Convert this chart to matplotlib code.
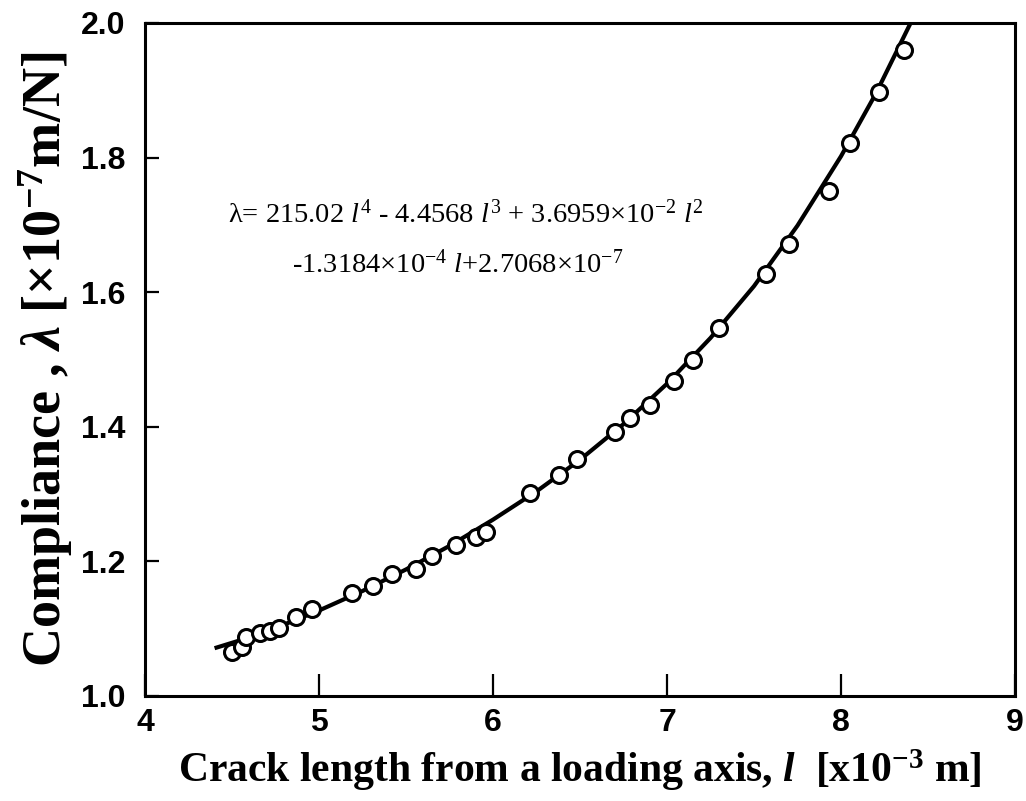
import matplotlib
matplotlib.use("Agg")
import matplotlib.pyplot as plt

# measured points: crack length [x10^-3 m], compliance [x10^-7 m/N]
crack_len = [4.50, 4.56, 4.58, 4.66, 4.72, 4.77, 4.87, 4.96, 5.19, 5.31,
             5.42, 5.56, 5.65, 5.79, 5.90, 5.96, 6.21, 6.38, 6.48, 6.70,
             6.79, 6.90, 7.04, 7.15, 7.30, 7.57, 7.70, 7.93, 8.05, 8.22, 8.36]
compliance = [1.066, 1.073, 1.088, 1.093, 1.097, 1.101, 1.117, 1.129, 1.153, 1.163,
              1.181, 1.188, 1.208, 1.224, 1.236, 1.244, 1.301, 1.329, 1.352, 1.392,
              1.413, 1.432, 1.468, 1.499, 1.547, 1.627, 1.671, 1.751, 1.821, 1.897, 1.960]

# fitted curve
fit_len = [4.40, 4.60, 4.75, 5.00, 5.25, 5.50, 5.75, 6.00, 6.25, 6.50,
           6.75, 7.00, 7.25, 7.50, 7.75, 8.00, 8.20, 8.40]
fit_val = [1.071, 1.087, 1.101, 1.127, 1.156, 1.188, 1.223, 1.262, 1.304, 1.351,
           1.404, 1.464, 1.532, 1.609, 1.699, 1.802, 1.895, 2.000]

plt.rcParams['mathtext.fontset'] = 'custom'
plt.rcParams['mathtext.rm'] = 'Liberation Serif'
plt.rcParams['mathtext.it'] = 'Liberation Serif:italic'
plt.rcParams['mathtext.bf'] = 'Liberation Serif:bold'
plt.rcParams['mathtext.bfit'] = 'Liberation Serif:italic:bold'

fig = plt.figure(figsize=(10.26, 8.01), dpi=100)
ax = fig.add_axes([0.1413, 0.1311, 0.848, 0.8402])

ax.plot(fit_len, fit_val, color='black', lw=3.0, solid_capstyle='butt', zorder=2)
ax.plot(crack_len, compliance, 'o', mfc='white', mec='black', ms=11.5, mew=2.2, zorder=3)

ax.set_xlim(4, 9)
ax.set_ylim(1.0, 2.0)
ax.set_xticks([4, 5, 6, 7, 8, 9])
ax.set_yticks([1.0, 1.2, 1.4, 1.6, 1.8, 2.0])
ax.set_yticklabels(['1.0', '1.2', '1.4', '1.6', '1.8', '2.0'])

for s in ax.spines.values():
    s.set_linewidth(2.2)
ax.tick_params(axis='x', direction='in', length=16, width=1.6, pad=9)
ax.tick_params(axis='y', direction='in', length=10, width=1.6, pad=14)
for lab in ax.get_xticklabels() + ax.get_yticklabels():
    lab.set_fontfamily('Liberation Sans')
    lab.set_fontweight('bold')
    lab.set_fontsize(23)

ax.set_xlabel(r'Crack length from a loading axis, $\mathbfit{l}$  [x10$^{\mathbf{-3}}$ m]',
              family='Liberation Serif', fontweight='bold', fontsize=30, labelpad=6)
ax.set_ylabel(r'Compliance , $\mathbfit{\lambda}$ [×10$^{\mathbf{-7}}$m/N]',
              family='Liberation Serif', fontweight='bold', fontsize=39, labelpad=4)

ax.text(4.48, 1.715,
        r'λ= 215.02 $\mathit{l}^{4}$ - 4.4568 $\mathit{l}^{3}$ + 3.695$9$×10$^{-2}$ $\mathit{l}^{2}$',
        family='Liberation Serif', fontsize=20.5, va='center', ha='left')
ax.text(4.845, 1.642,
        r'-1.3184×10$^{-4}$ $\mathit{l}$+2.7068×10$^{-7}$',
        family='Liberation Serif', fontsize=20.5, va='center', ha='left')

fig.savefig('out.png', dpi=100)
